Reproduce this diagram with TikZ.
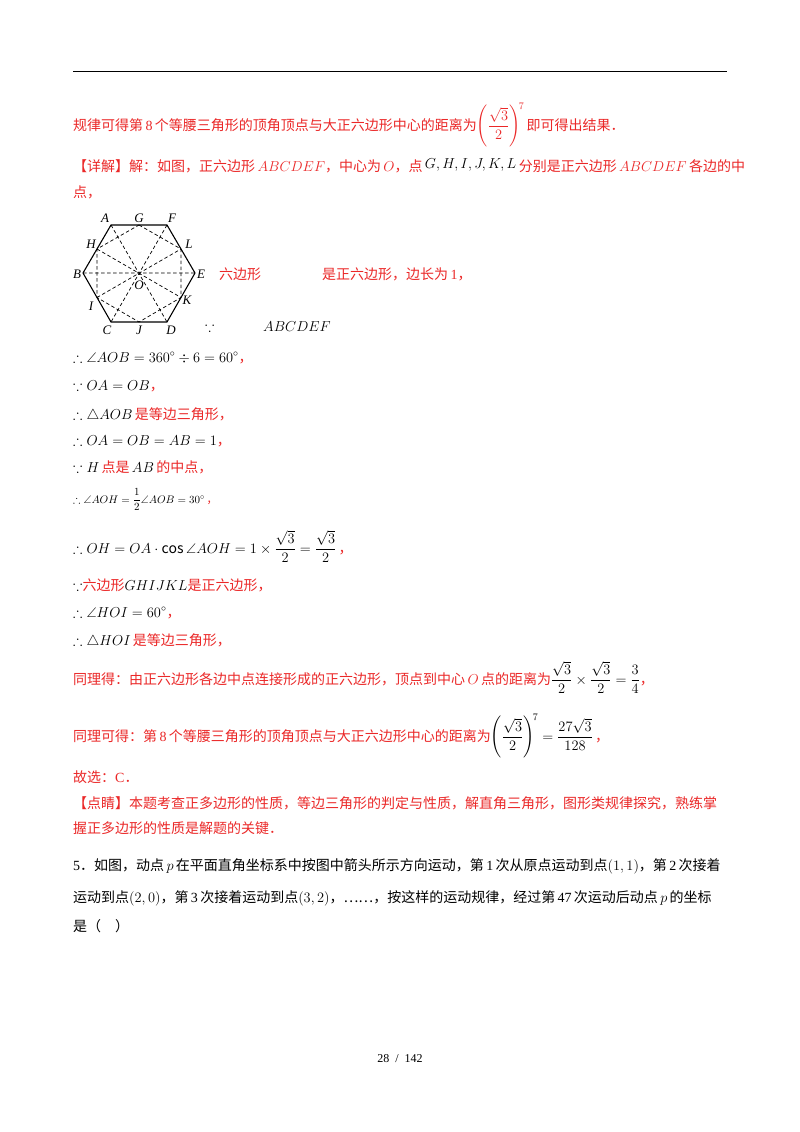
\documentclass[tikz,border=0pt]{standalone}
\usepackage{amsmath,amssymb}
\usepackage{fontspec}
\usetikzlibrary{calc}
\setmainfont{Noto Sans CJK SC}
\newfontfamily\lat{Liberation Serif}
\definecolor{rd}{RGB}{235,40,40}
\begin{document}
\begin{tikzpicture}[x=1pt,y=-1pt,
  t/.style={anchor=base west,inner sep=0,font=\fontsize{14}{15}\selectfont},
  r/.style={t,text=rd},
  lab/.style={inner sep=0,font=\fontsize{13}{14}\selectfont\itshape\lat},
  hx/.style={line width=1.1pt},
  ds/.style={line width=0.7pt,dash pattern=on 3.5pt off 2.5pt}]
\useasboundingbox (0,0) rectangle (800,1132);
\fill[white] (0,0) rectangle (800,1132);
\draw[line width=1pt] (73,72) -- (727,72);
\node[r] (l1) at (73,130) {规律可得第\,{\lat 8}\,个等腰三角形的顶角顶点与大正六边形中心的距离为$\left(\dfrac{\sqrt3}{2}\right)^{\!7}$\,即可得出结果．};
\node[r] (l2) at (73,171) {【详解】解：如图，正六边形\,$ABCDEF$，中心为\,$O$，点\,\textcolor{black}{\raisebox{3pt}{$G,H,I,J,K,L$}}\,分别是正六边形\,$ABCDEF$\,各边的中};
\node[r] (l3) at (73,197) {点，};
% hexagon
\coordinate (O) at (139,273);
\coordinate (A) at (111,225); \coordinate (F) at (167,225);
\coordinate (E) at (195,273); \coordinate (D) at (167,322);
\coordinate (C) at (111,322); \coordinate (B) at (83,273);
\coordinate (G) at ($(A)!0.5!(F)$); \coordinate (L) at ($(F)!0.5!(E)$);
\coordinate (K) at ($(E)!0.5!(D)$); \coordinate (J) at ($(D)!0.5!(C)$);
\coordinate (I) at ($(C)!0.5!(B)$); \coordinate (H) at ($(B)!0.5!(A)$);
\draw[hx] (A)--(F)--(E)--(D)--(C)--(B)--cycle;
\draw[ds] (G)--(L)--(K)--(J)--(I)--(H)--cycle;
\draw[ds] (A)--(D) (F)--(C) (B)--(E) (H)--(K) (I)--(L);
\node[lab] (nA) at (105,218) {A}; \node[lab] (nG) at (139,218) {G};
\node[lab] (nF) at (172,218) {F}; \node[lab] (nH) at (91,244) {H};
\node[lab] (nL) at (189,244) {L}; \node[lab] (nB) at (77,274) {B};
\node[lab] (nE) at (201,274) {E}; \node[lab] (nO) at (139,285) {O};
\node[lab] (nI) at (91,306) {I}; \node[lab] (nK) at (187,300) {K};
\node[lab] (nC) at (107,330) {C}; \node[lab] (nJ) at (139,330) {J};
\node[lab] (nD) at (171,330) {D};
\node[r] (l4) at (219,279) {六边形};
\node[r] (l4b) at (322,279) {是正六边形，边长为\,{\lat 1}，};
\node[t] (l5) at (205,331) {$\because$};
\node[t] (l5b) at (263,331) {$ABCDEF$};
\node[t] (m1) at (73,362) {$\therefore\angle AOB=360^\circ\div6=60^\circ$\textcolor{rd}{，}};
\node[t] (m2) at (73,390) {$\because OA=OB$\textcolor{rd}{，}};
\node[t] (m3) at (73,419) {$\therefore\triangle AOB$\,\textcolor{rd}{是等边三角形，}};
\node[t] (m4) at (73,445) {$\therefore OA=OB=AB=1$\textcolor{rd}{，}};
\node[t] (m5) at (73,472) {$\because H$\,\textcolor{rd}{点是}\,$AB$\,\textcolor{rd}{的中点，}};
\node[t,font=\fontsize{11}{13}\selectfont] (m6) at (73,503) {$\therefore\angle AOH=\dfrac12\angle AOB=30^\circ$\,\textcolor{rd}{，}};
\node[t] (m7) at (73,553) {$\therefore OH=OA\cdot\cos\angle AOH=1\times\dfrac{\sqrt3}{2}=\dfrac{\sqrt3}{2}$\,\textcolor{rd}{，}};
\node[t] (m8) at (73,590) {$\because$\textcolor{rd}{六边形}$GHIJKL$\textcolor{rd}{是正六边形，}};
\node[t] (m9) at (73,617) {$\therefore\angle HOI=60^\circ$\textcolor{rd}{，}};
\node[t] (m10) at (73,645) {$\therefore\triangle HOI$\,\textcolor{rd}{是等边三角形，}};
\node[r] (m11) at (73,684) {同理得：由正六边形各边中点连接形成的正六边形，顶点到中心\,$O$\,点的距离为\textcolor{black}{$\dfrac{\sqrt3}{2}\times\dfrac{\sqrt3}{2}=\dfrac34$}，};
\node[r] (m12) at (73,741) {同理可得：第\,{\lat 8}\,个等腰三角形的顶角顶点与大正六边形中心的距离为\textcolor{black}{$\left(\dfrac{\sqrt3}{2}\right)^{\!7}=\dfrac{27\sqrt3}{128}$}\,，};
\node[r] (m13) at (73,782) {故选：{\lat C}．};
\node[r] (m14) at (73,808) {【点睛】本题考查正多边形的性质，等边三角形的判定与性质，解直角三角形，图形类规律探究，熟练掌};
\node[r] (m15) at (73,833) {握正多边形的性质是解题的关键．};
\node[t] (q1) at (73,870) {{\lat 5}．如图，动点\,$p$\,在平面直角坐标系中按图中箭头所示方向运动，第\,{\lat 1}\,次从原点运动到点$\left(1,1\right)$，第\,{\lat 2}\,次接着};
\node[t] (q2) at (73,902) {运动到点$\left(2,0\right)$，第\,{\lat 3}\,次接着运动到点$\left(3,2\right)$，……，按这样的运动规律，经过第\,{\lat 47}\,次运动后动点\,$p$\,的坐标};
\node[t] (q3) at (73,931) {是（\quad）};
\node[anchor=base,inner sep=0,font=\fontsize{12}{14}\selectfont\lat] (pg) at (400,1062) {28\ \ /\ \ 142};
\end{tikzpicture}
\end{document}
